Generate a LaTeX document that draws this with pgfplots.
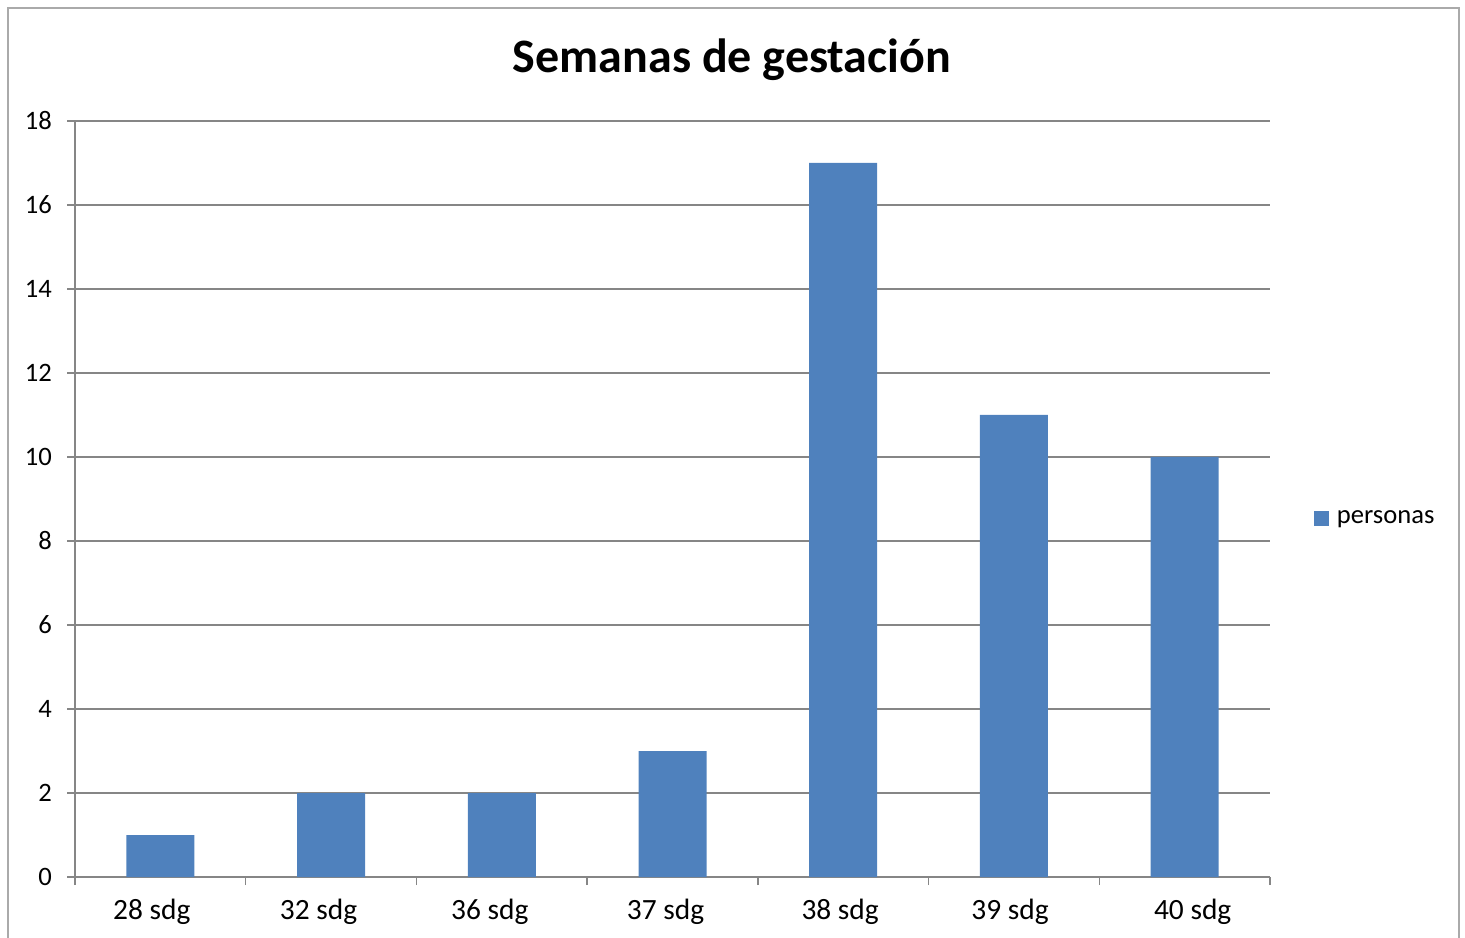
\documentclass[border=0pt]{standalone}
\usepackage{pgfplots}
\pgfplotsset{compat=1.18}
\usepackage{fontspec}
\setmainfont{Carlito}
\definecolor{barblue}{HTML}{4F81BD}
\definecolor{gridgray}{HTML}{868686}
\begin{document}
\begin{tikzpicture}
\begin{axis}[
 at={(0pt,0pt)}, anchor=south west,
 scale only axis, width=597.5pt, height=378pt,
 ymin=0, ymax=18, ytick={0,2,...,18},
 xmin=-0.5, xmax=6.5,
 xtick={-0.05,0.927,1.93,2.959,3.982,4.977,6.047},
 xticklabels={28 sdg,32 sdg,36 sdg,37 sdg,38 sdg,39 sdg,40 sdg},
 minor xtick={-0.5,0.5,...,6.5},
 major x tick style={draw=none},
 axis lines*=left,
 axis line style={gridgray, line width=0.7pt},
 tick align=outside,
 tick style={gridgray, line width=0.7pt},
 major tick length=4pt, minor tick length=4pt,
 ymajorgrids, grid style={gridgray, line width=0.7pt},
 yticklabel style={font=\fontsize{13.3}{15}\selectfont, black, xshift=-4pt},
 xticklabel style={font=\fontsize{14.7}{17}\selectfont, black, yshift=-3.5pt},
 /pgf/number format/assume math mode=true,
 legend style={at={(1.033,0.474)}, anchor=west, draw=none, fill=none, font=\fontsize{13.3}{16}\selectfont, inner sep=2pt},
 legend image code/.code={\fill[barblue] (0pt,-3.75pt) rectangle (7.5pt,3.75pt); \path (9.5pt,0pt);},
]
\addplot[ybar, bar width=34pt, fill=barblue, draw=none] coordinates {(0,1) (1,2) (2,2) (3,3) (4,17) (5,11) (6,10)};
\addlegendentry{personas}
\end{axis}
\pgfresetboundingbox
\path[use as bounding box] (-37.5pt,-30pt) rectangle (695pt,438.5pt);
\draw[gridgray!70, line width=0.8pt] (-33.5pt,-40pt) rectangle (692pt,434.5pt);
\node[font=\bfseries\fontsize{24}{28}\selectfont] at (328.5pt,408.5pt) {Semanas de gestación};
\end{tikzpicture}
\end{document}
